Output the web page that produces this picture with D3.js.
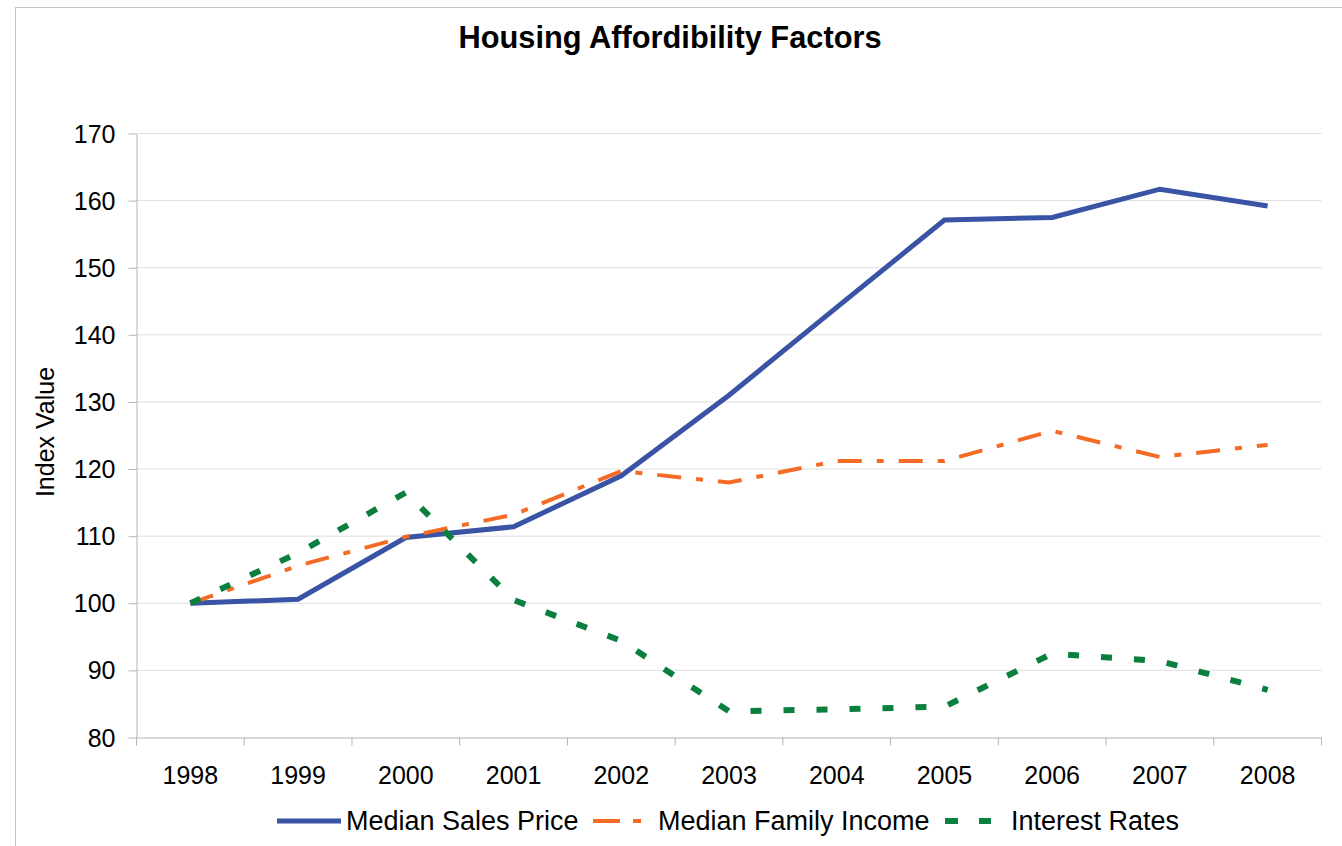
<!DOCTYPE html>
<html lang="en">
<head>
	<meta charset="utf-8">
	<title>Housing Affordibility Factors</title>
	<script src="https://d3js.org/d3.v7.min.js"></script>
	<style>
		body { margin: 0; background: #fff; }
		text { font-family: "Liberation Sans", Arial, sans-serif; fill: #000; }
		.axis path, .axis line { stroke: #b4b4b4; }
	</style>
</head>
<body>
	<script>
		// data
		var years = ["1998", "1999", "2000", "2001", "2002", "2003", "2004", "2005", "2006", "2007", "2008"];
		var salesPrice = [100, 100.6, 109.8, 111.4, 119, 131, 144.1, 157.1, 157.5, 161.7, 159.2];
		var familyIncome = [100, 105.6, 109.9, 113.2, 119.7, 118, 121.2, 121.2, 125.7, 121.8, 123.6];
		var interestRates = [100, 107.5, 116.5, 100.5, 94.4, 83.9, 84.2, 84.6, 92.5, 91.4, 87.1];
		var yTicks = [80, 90, 100, 110, 120, 130, 140, 150, 160, 170];

		var series = [
			{ name: "Median Sales Price", values: salesPrice, color: "#3953a5", width: 5, dash: null, legendDash: null },
			{ name: "Median Family Income", values: familyIncome, color: "#f36b24", width: 4, dash: "24,15,7,15", legendDash: "27,13,8,13" },
			{ name: "Interest Rates", values: interestRates, color: "#0a7f3e", width: 6, dash: "11,22", legendDash: "13,21" }
		];

		var w = 1342, h = 846;
		var plotLeft = 136.5, plotRight = 1321.5, plotTop = 133.5, plotBottom = 737.5;

		var svg = d3.select("body").append("svg")
			.attr("width", w)
			.attr("height", h);

		// outer chart border (runs off the right and bottom edge)
		svg.append("rect")
			.attr("x", 15.5).attr("y", 7.5)
			.attr("width", w + 20).attr("height", h + 20)
			.attr("fill", "none")
			.attr("stroke", "#c4c4c4");

		var x = d3.scaleBand().domain(years).range([plotLeft, plotRight]);
		var y = d3.scaleLinear().domain([80, 170]).range([plotBottom, plotTop]);

		// gridlines
		svg.append("g")
			.selectAll("line")
			.data(yTicks.slice(1))
			.enter().append("line")
			.attr("x1", plotLeft).attr("x2", plotRight)
			.attr("y1", function(d){ return y(d); })
			.attr("y2", function(d){ return y(d); })
			.attr("stroke", "#dedede");

		// y axis
		var yAxis = svg.append("g")
			.attr("class", "axis")
			.attr("transform", "translate(" + plotLeft + ",0)")
			.call(d3.axisLeft(y).tickValues(yTicks).tickSize(8).tickPadding(13).tickSizeOuter(0));
		yAxis.selectAll("text").attr("font-size", 25).attr("dy", "0.34em");

		// x axis, ticks between the categories
		var xAxis = svg.append("g")
			.attr("class", "axis")
			.attr("transform", "translate(0," + plotBottom + ")")
			.call(d3.axisBottom(x).tickSize(0).tickPadding(0).tickSizeOuter(0));
		xAxis.selectAll(".tick text").attr("font-size", 25).attr("y", 46).attr("dy", 0);
		xAxis.selectAll(".sep")
			.data(years.concat(["end"]))
			.enter().append("line")
			.attr("class", "sep")
			.attr("x1", function(d, i){ return plotLeft + i * x.step(); })
			.attr("x2", function(d, i){ return plotLeft + i * x.step(); })
			.attr("y1", 0).attr("y2", 8);

		// lines
		var line = d3.line()
			.x(function(d, i){ return x(years[i]) + x.bandwidth() / 2; })
			.y(function(d){ return y(d); });

		svg.selectAll(".series")
			.data(series)
			.enter().append("path")
			.attr("class", "series")
			.attr("d", function(d){ return line(d.values); })
			.attr("fill", "none")
			.attr("stroke", function(d){ return d.color; })
			.attr("stroke-width", function(d){ return d.width; })
			.attr("stroke-dasharray", function(d){ return d.dash; })
			.attr("stroke-linejoin", "miter");

		// title
		svg.append("text")
			.attr("x", 670).attr("y", 48)
			.attr("text-anchor", "middle")
			.attr("font-size", 30.8)
			.attr("font-weight", "bold")
			.text("Housing Affordibility Factors");

		// y label
		svg.append("text")
			.attr("transform", "translate(54,432) rotate(-90)")
			.attr("text-anchor", "middle")
			.attr("font-size", 25)
			.text("Index Value");

		// legend
		var legendItems = [
			{ s: series[0], x1: 277, x2: 341, tx: 346 },
			{ s: series[1], x1: 593, x2: 641, tx: 658 },
			{ s: series[2], x1: 945, x2: 991, tx: 1011 }
		];
		var legend = svg.append("g");
		legend.selectAll("line")
			.data(legendItems)
			.enter().append("line")
			.attr("x1", function(d){ return d.x1; })
			.attr("x2", function(d){ return d.x2; })
			.attr("y1", 821).attr("y2", 821)
			.attr("stroke", function(d){ return d.s.color; })
			.attr("stroke-width", function(d){ return d.s.width; })
			.attr("stroke-dasharray", function(d){ return d.s.legendDash; });
		legend.selectAll("text")
			.data(legendItems)
			.enter().append("text")
			.attr("x", function(d){ return d.tx; })
			.attr("y", 830)
			.attr("font-size", 27)
			.text(function(d){ return d.s.name; });
	</script>
</body>
</html>
